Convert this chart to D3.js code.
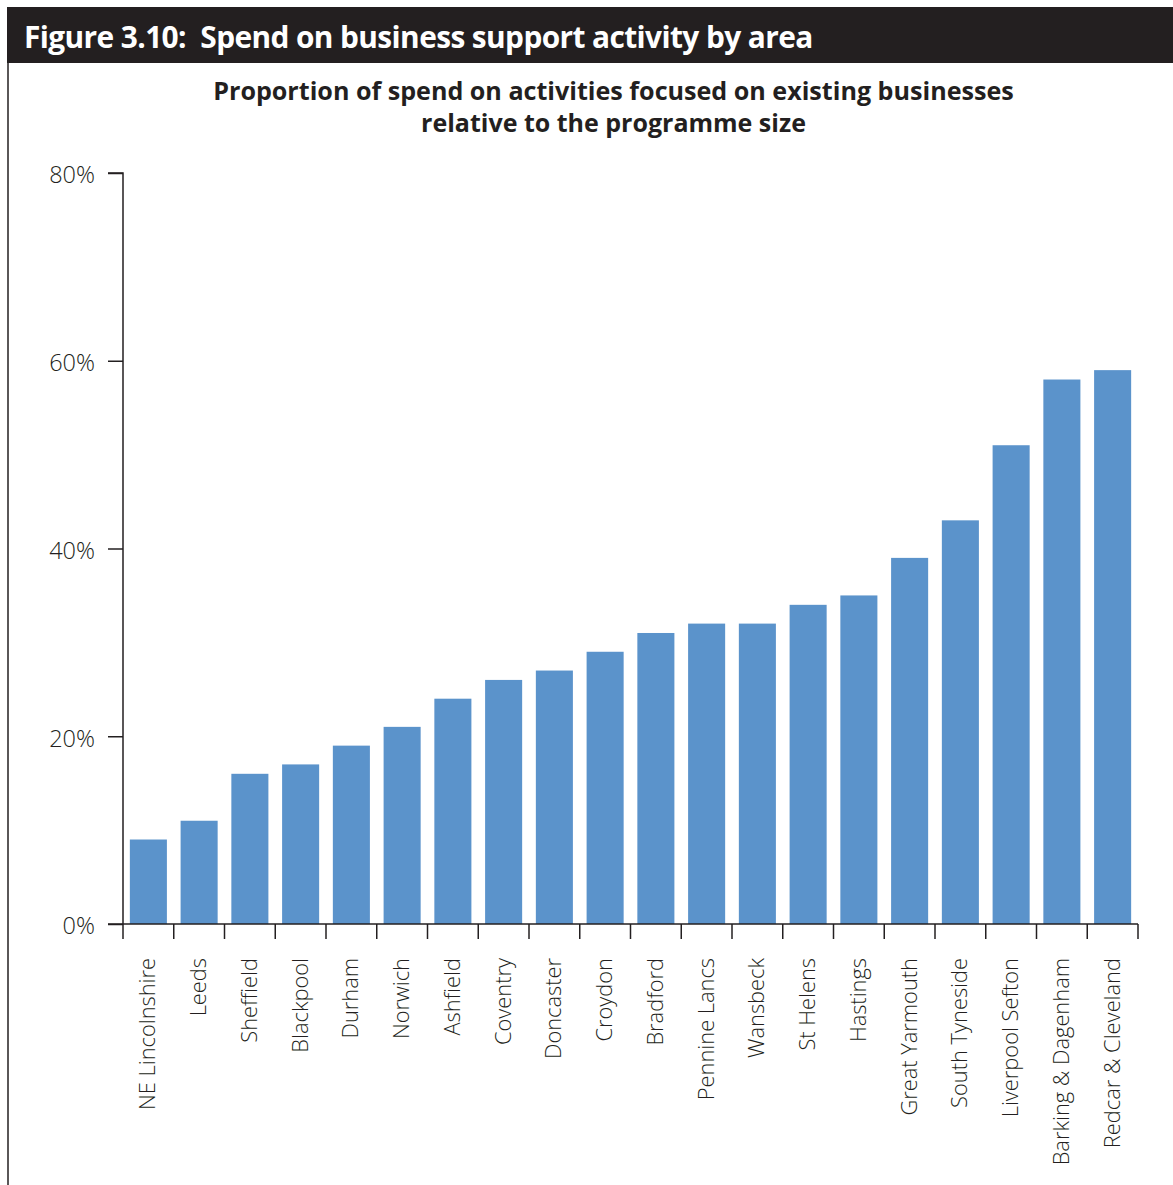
<!DOCTYPE html>
<html><head><meta charset="utf-8">
<script src="https://cdn.jsdelivr.net/npm/d3@7"></script>
<style>
html,body{margin:0;padding:0;background:#fff;}
svg text{font-family:"Open Sans","Noto Sans",sans-serif;}
</style></head>
<body>
<svg id="chart" width="1173" height="1185"></svg>
<script>
const categories = ["NE Lincolnshire","Leeds","Sheffield","Blackpool","Durham","Norwich","Ashfield","Coventry","Doncaster","Croydon","Bradford","Pennine Lancs","Wansbeck","St Helens","Hastings","Great Yarmouth","South Tyneside","Liverpool Sefton","Barking & Dagenham","Redcar & Cleveland"];
const values = [9,11,16,17,19,21,24,26,27,29,31,32,32,34,35,39,43,51,58,59];
const yTicks = [0,20,40,60,80];
const figureTitle = "Figure 3.10:  Spend on business support activity by area";
const subtitleLines = ["Proportion of spend on activities focused on existing businesses","relative to the programme size"];

const svg = d3.select("#chart");
const W = 1173, H = 1185;

// frame
svg.append("rect").attr("x",7).attr("y",7).attr("width",W-7).attr("height",56).attr("fill","#231f20");
svg.append("line").attr("x1",8).attr("x2",8).attr("y1",63).attr("y2",H).attr("stroke","#231f20").attr("stroke-width",1.5);

function fit(sel, target){
  const n = sel.node(); const w = n.getComputedTextLength();
  const fs = parseFloat(sel.attr("font-size"));
  sel.attr("font-size", fs*target/w);
}

const t = svg.append("text").attr("x",24).attr("y",48).attr("fill","#fff")
  .attr("font-size",30).attr("font-weight",700).attr("letter-spacing",-0.6).attr("xml:space","preserve").style("white-space","pre").text(figureTitle);
fit(t, 789);

const subW = [801, 385];
subtitleLines.forEach((s,i)=>{
  const st = svg.append("text").attr("x",613.5).attr("y",100+i*32).attr("text-anchor","middle")
    .attr("fill","#231f20").attr("font-size",24).attr("font-weight",700).text(s);
  fit(st, subW[i]);
});

const x0 = 123, x1 = 1138, yBase = 924, yTop = 173;
const x = d3.scaleBand().domain(categories).range([x0,x1]).paddingInner(0.27).paddingOuter(0.135);
const y = d3.scaleLinear().domain([0,80]).range([yBase,yTop]);

svg.append("g").selectAll("rect").data(values).join("rect")
  .attr("x",(d,i)=>x(categories[i])).attr("width",x.bandwidth())
  .attr("y",d=>y(d)).attr("height",d=>y(0)-y(d)).attr("fill","#5b93cb");

// y axis
const ya = svg.append("g").attr("transform",`translate(${x0},0)`)
  .call(d3.axisLeft(y).tickValues(yTicks).tickFormat(d=>d+"%").tickSize(15).tickPadding(13));
ya.select(".domain").attr("d",`M-15,${yTop}H0V${yBase}`).attr("stroke","#231f20").attr("stroke-width",1.5);
ya.selectAll(".tick line").attr("stroke","#231f20").attr("stroke-width",1.5);
ya.selectAll(".tick text").attr("font-size",23.5).attr("font-weight",300).attr("dy","0.42em").attr("fill","#231f20").attr("font-family",'"Open Sans","Noto Sans",sans-serif');

// x axis baseline & boundary ticks
const bounds = d3.range(categories.length+1).map(i=>x0 + i*(x1-x0)/categories.length);
svg.append("line").attr("x1",108).attr("x2",x1).attr("y1",yBase).attr("y2",yBase).attr("stroke","#231f20").attr("stroke-width",1.5);
svg.append("g").selectAll("line").data(bounds).join("line")
  .attr("x1",d=>d).attr("x2",d=>d).attr("y1",yBase).attr("y2",yBase+15).attr("stroke","#231f20").attr("stroke-width",1.5);

// x labels
const xl = svg.append("g").selectAll("text").data(categories).join("text")
  .attr("transform",d=>`translate(${x(d)+x.bandwidth()/2+7},958) rotate(-90)`)
  .attr("text-anchor","end").attr("font-size",21).attr("font-weight",300).attr("fill","#231f20").text(d=>d);
const n0 = xl.nodes()[0]; const w0 = n0.getComputedTextLength();
xl.attr("font-size", 21*152/w0);
</script>
</body></html>
